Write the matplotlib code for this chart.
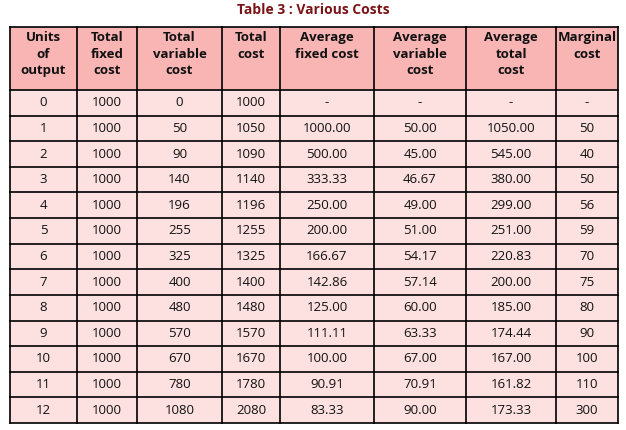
import matplotlib.pyplot as plt
from matplotlib.patches import Rectangle

# --- Table data ---
headers = ["Units\nof\noutput", "Total\nfixed\ncost", "Total\nvariable\ncost", "Total\ncost",
           "Average\nfixed cost", "Average\nvariable\ncost", "Average\ntotal\ncost", "Marginal\ncost"]
units = [0, 1, 2, 3, 4, 5, 6, 7, 8, 9, 10, 11, 12]
fixed_cost = [1000] * 13
variable_cost = [0, 50, 90, 140, 196, 255, 325, 400, 480, 570, 670, 780, 1080]
total_cost = [1000, 1050, 1090, 1140, 1196, 1255, 1325, 1400, 1480, 1570, 1670, 1780, 2080]
avg_fixed = ["-", "1000.00", "500.00", "333.33", "250.00", "200.00", "166.67", "142.86",
             "125.00", "111.11", "100.00", "90.91", "83.33"]
avg_variable = ["-", "50.00", "45.00", "46.67", "49.00", "51.00", "54.17", "57.14",
                "60.00", "63.33", "67.00", "70.91", "90.00"]
avg_total = ["-", "1050.00", "545.00", "380.00", "299.00", "251.00", "220.83", "200.00",
             "185.00", "174.44", "167.00", "161.82", "173.33"]
marginal = ["-", 50, 40, 50, 56, 59, 70, 75, 80, 90, 100, 110, 300]

columns = [units, fixed_cost, variable_cost, total_cost, avg_fixed, avg_variable, avg_total, marginal]

col_edges = [10, 77, 137, 222, 280, 374, 466, 556, 618]
top, header_bottom, bottom = 27, 90, 423
row_h = (bottom - header_bottom) / len(units)

fig = plt.figure(figsize=(6.26, 4.30), dpi=100)
ax = fig.add_axes([0, 0, 1, 1])
ax.set_xlim(0, 626)
ax.set_ylim(430, 0)
ax.axis("off")

ax.text(313, 10, "Table 3 : Various Costs", ha="center", va="center",
        fontsize=10, fontweight="bold", color="#7b1416", family="Open Sans")

# backgrounds
ax.add_patch(Rectangle((col_edges[0], top), col_edges[-1] - col_edges[0], header_bottom - top,
                       facecolor="#f9b4b4", edgecolor="none"))
ax.add_patch(Rectangle((col_edges[0], header_bottom), col_edges[-1] - col_edges[0], bottom - header_bottom,
                       facecolor="#fde1e1", edgecolor="none"))

# grid lines
for x in col_edges:
    ax.plot([x, x], [top, bottom], color="black", lw=1.2)
ax.plot([col_edges[0], col_edges[-1]], [top, top], color="black", lw=1.2)
for i in range(len(units) + 1):
    y = header_bottom + i * row_h
    ax.plot([col_edges[0], col_edges[-1]], [y, y], color="black", lw=1.2)

for j, h in enumerate(headers):
    cx = (col_edges[j] + col_edges[j + 1]) / 2
    ax.text(cx, 31, h, ha="center", va="top", fontsize=9.5,
            fontweight="bold", color="#111111", linespacing=1.35, family="Open Sans")

for j, col in enumerate(columns):
    cx = (col_edges[j] + col_edges[j + 1]) / 2
    for i, v in enumerate(col):
        cy = header_bottom + (i + 0.5) * row_h
        ax.text(cx, cy, str(v), ha="center", va="center", fontsize=9.5,
                color="#111111", family="Open Sans")

fig.savefig("out.png", dpi=100)
